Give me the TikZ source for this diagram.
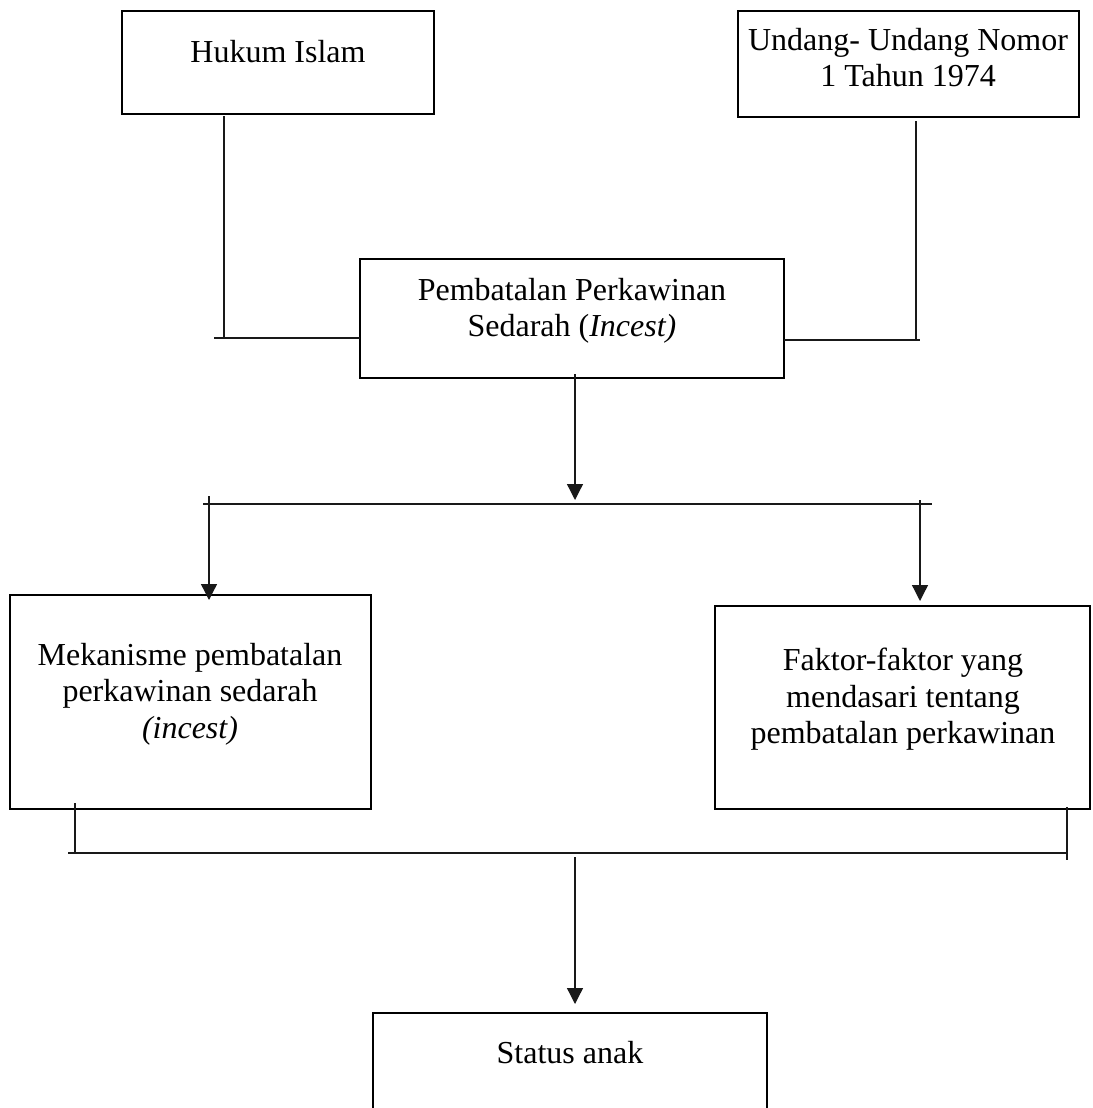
\documentclass[tikz,border=0pt]{standalone}
\usepackage{fontspec}
\setmainfont{Liberation Serif}
\usetikzlibrary{arrows.meta}

\begin{document}
\begin{tikzpicture}[x=1pt,y=-1pt,
  kotak/.style={draw,line width=2pt,inner sep=0pt,outer sep=0pt,anchor=north west},
  teks/.style={align=center,anchor=north,inner sep=0pt,font=\fontsize{32}{36.5}\selectfont},
  garis/.style={line width=1.3pt,draw=black!90},
  panah/.style={garis,-{Triangle[length=16pt,width=16pt]}}]
\useasboundingbox (0,0) rectangle (1092,1108);
\clip (0,0) rectangle (1092,1108);

% kotak
\node[kotak,minimum width=312pt,minimum height=103pt] (hukum) at (122,11) {};
\node[kotak,minimum width=341pt,minimum height=106pt] (uu) at (738,11) {};
\node[kotak,minimum width=424pt,minimum height=119pt] (pemb) at (360,259) {};
\node[kotak,minimum width=361pt,minimum height=214pt] (meka) at (10,595) {};
\node[kotak,minimum width=375pt,minimum height=203pt] (faktor) at (715,606) {};
\node[kotak,minimum width=394pt,minimum height=130pt] (status) at (373,1013) {};

\node[teks] (hukum-t) at (278,40) {Hukum Islam};
\node[teks] (uu-t) at (908,28) {Undang- Undang Nomor\\1 Tahun 1974};
\node[teks] (pemb-t) at (572,278) {Pembatalan Perkawinan\\Sedarah (\textit{Incest)}};
\node[teks] (meka-t) at (190,643) {Mekanisme pembatalan\\perkawinan sedarah\\\textit{(incest)}};
\node[teks] (faktor-t) at (903,648) {Faktor-faktor yang\\mendasari tentang\\pembatalan perkawinan};
\node[teks] (status-t) at (570,1041) {Status anak};

% garis atas
\coordinate (kiri) at (224,338);
\coordinate (kanan) at (916,340);
\draw[garis] ([yshift=-2pt]hukum.south -| kiri) -- (kiri);
\draw[garis] ([xshift=-10pt]kiri) -- (pemb.west |- kiri);
\draw[garis] ([yshift=-4pt]uu.south -| kanan) -- (kanan);
\draw[garis] (pemb.east |- kanan) -- ([xshift=4pt]kanan);

% cabang tengah
\coordinate (cabang) at (575,504);
\coordinate (cabang-l) at (203,504);
\coordinate (cabang-r) at (932,504);
\coordinate (ki) at (209,496);
\coordinate (ka) at (920,500);
\draw[panah] ([yshift=4pt]pemb.south -| cabang) -- ([yshift=4pt]cabang);
\draw[garis] (cabang-l) -- (cabang-r);
\draw[panah] (ki) -- ([yshift=-5pt]ki |- meka.north);
\draw[panah] (ka) -- ([yshift=5pt]ka |- faktor.north);

% garis bawah
\coordinate (bawah) at (575,853);
\coordinate (bawah-l) at (68,853);
\coordinate (bawah-r) at (1066,853);
\coordinate (tl) at (75,853);
\coordinate (tr) at (1067,860);
\draw[garis] ([yshift=6pt]tl |- meka.south) -- (tl);
\draw[garis] ([yshift=2pt]tr |- faktor.south) -- (tr);
\draw[garis] (bawah-l) -- (bawah-r);
\draw[panah] ([yshift=-4pt]bawah) -- ([yshift=9pt]bawah |- status.north);

\end{tikzpicture}
\end{document}
